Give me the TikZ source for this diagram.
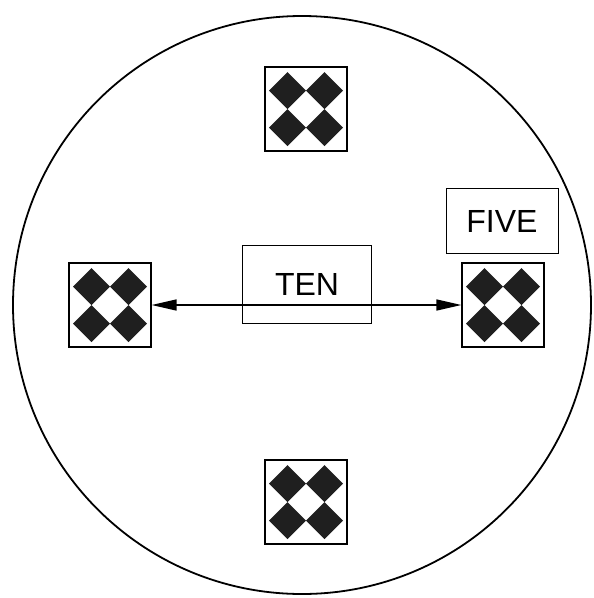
\documentclass[tikz,border=0pt]{standalone}
\usepackage{fontspec}
\setmainfont{Liberation Sans}
\usetikzlibrary{arrows.meta}

\begin{document}
\begin{tikzpicture}[
    x=1pt, y=-1pt,
    tile/.style={rectangle, draw, line width=1.2pt, minimum width=82pt, minimum height=84pt, inner sep=0pt,
        path picture={
            \foreach \dx/\dy in {-18.5/-18.5, 18.5/-18.5, -18.5/18.5, 18.5/18.5}
                \fill[black!88] ([shift={(\dx-18.5,\dy)}]path picture bounding box.center)
                    -- ++(18.5,-18.5) -- ++(18.5,18.5) -- ++(-18.5,18.5) -- cycle;
        }},
    tagbox/.style={rectangle, draw, line width=1pt, inner sep=0pt, font=\fontsize{32}{36}\selectfont},
    arrow/.style={{Triangle[length=25pt, width=11pt]}-{Triangle[length=25pt, width=11pt]}, line width=1.5pt}
]
\useasboundingbox (0,0) rectangle (594,598);

% outer ring
\draw[line width=1.8pt] (302,305) circle (289);

% four tiles
\node[tile] (north) at (306,109) {};
\node[tile] (west) at (110,305) {};
\node[tile] (east) at (503,305) {};
\node[tile] (south) at (306,502) {};

% labels
\node[tagbox, minimum width=129pt, minimum height=78pt] (ten) at (307,284) {TEN};
\node[tagbox, minimum width=112pt, minimum height=65pt] (five) at (502,221) {FIVE};

\draw[arrow] (west) -- (east);

\end{tikzpicture}
\end{document}
